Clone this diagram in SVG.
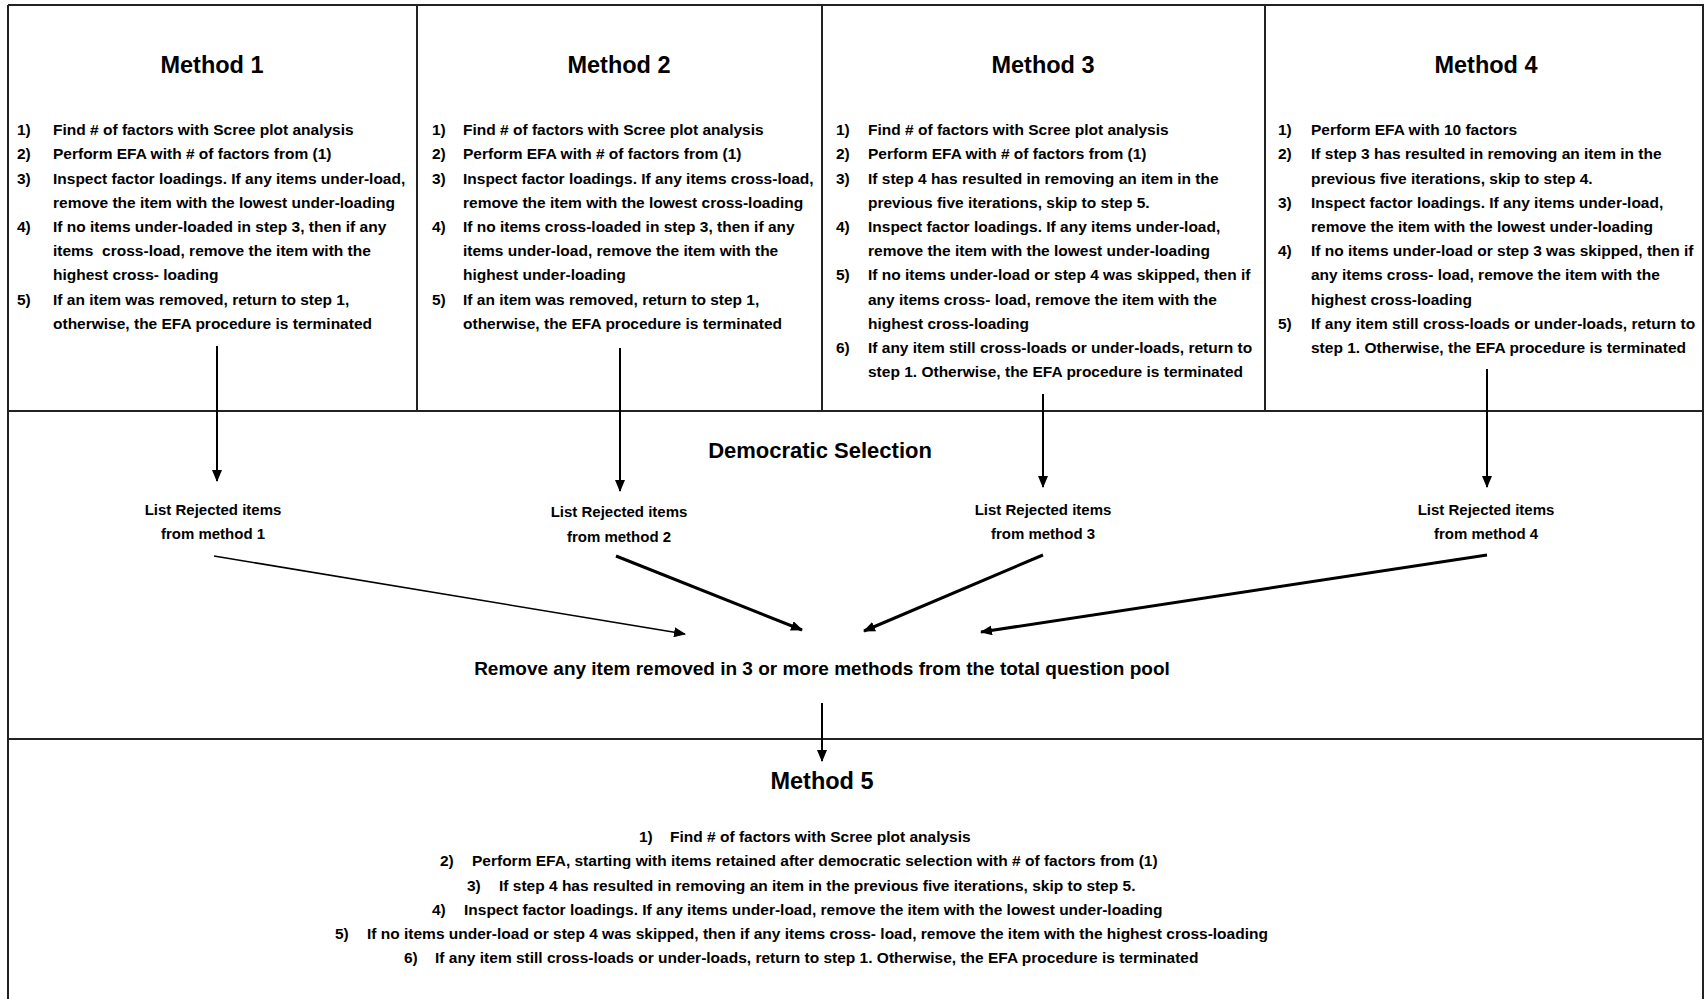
<svg xmlns="http://www.w3.org/2000/svg" width="1704" height="999" viewBox="0 0 1704 999">
<defs>
<style>
.frame{stroke:#222;stroke-width:2;fill:none}
.t{font-family:"Liberation Sans",Arial,sans-serif;font-weight:bold;fill:#000}
.title{font-size:23.5px;text-anchor:middle}
.body{font-size:15.5px}
.lbl{font-size:15px;text-anchor:middle}
.big{font-size:19px;text-anchor:middle}
.sec{font-size:22px;text-anchor:middle}
.c{stroke:#000;fill:none;marker-end:url(#ah)}
</style>
<marker id="ah" markerUnits="userSpaceOnUse" markerWidth="12" markerHeight="10" refX="11" refY="5" orient="auto">
<path d="M0,0 L12,5 L0,10 Z" fill="#000"/>
</marker>
</defs>
<rect width="1704" height="999" fill="#fff"/>
<g id="frame">
<line class="frame" x1="8" y1="5" x2="1704" y2="5"/>
<line class="frame" x1="8" y1="5" x2="8" y2="999"/>
<line class="frame" x1="1703" y1="5" x2="1703" y2="999"/>
<line class="frame" x1="8" y1="411" x2="1704" y2="411"/>
<line class="frame" x1="8" y1="739" x2="1704" y2="739"/>
<line class="frame" x1="417" y1="5" x2="417" y2="411"/>
<line class="frame" x1="822" y1="5" x2="822" y2="411"/>
<line class="frame" x1="1265" y1="5" x2="1265" y2="411"/>
</g>
<g id="method1" class="t">
<text class="title" x="212" y="73">Method 1</text>
<g class="body">
<text x="17" y="135">1)</text><text x="53" y="135">Find # of factors with Scree plot analysis</text>
<text x="17" y="159">2)</text><text x="53" y="159">Perform EFA with # of factors from (1)</text>
<text x="17" y="184">3)</text><text x="53" y="184">Inspect factor loadings. If any items under-load,</text>
<text x="53" y="208">remove the item with the lowest under-loading</text>
<text x="17" y="232">4)</text><text x="53" y="232">If no items under-loaded in step 3, then if any</text>
<text x="53" y="256">items&#160; cross-load, remove the item with the</text>
<text x="53" y="280">highest cross- loading</text>
<text x="17" y="305">5)</text><text x="53" y="305">If an item was removed, return to step 1,</text>
<text x="53" y="329">otherwise, the EFA procedure is terminated</text>
</g>
</g>
<g id="method2" class="t">
<text class="title" x="619" y="73">Method 2</text>
<g class="body">
<text x="432" y="135">1)</text><text x="463" y="135">Find # of factors with Scree plot analysis</text>
<text x="432" y="159">2)</text><text x="463" y="159">Perform EFA with # of factors from (1)</text>
<text x="432" y="184">3)</text><text x="463" y="184">Inspect factor loadings. If any items cross-load,</text>
<text x="463" y="208">remove the item with the lowest cross-loading</text>
<text x="432" y="232">4)</text><text x="463" y="232">If no items cross-loaded in step 3, then if any</text>
<text x="463" y="256">items under-load, remove the item with the</text>
<text x="463" y="280">highest under-loading</text>
<text x="432" y="305">5)</text><text x="463" y="305">If an item was removed, return to step 1,</text>
<text x="463" y="329">otherwise, the EFA procedure is terminated</text>
</g>
</g>
<g id="method3" class="t">
<text class="title" x="1043" y="73">Method 3</text>
<g class="body">
<text x="836" y="135">1)</text><text x="868" y="135">Find # of factors with Scree plot analysis</text>
<text x="836" y="159">2)</text><text x="868" y="159">Perform EFA with # of factors from (1)</text>
<text x="836" y="184">3)</text><text x="868" y="184">If step 4 has resulted in removing an item in the</text>
<text x="868" y="208">previous five iterations, skip to step 5.</text>
<text x="836" y="232">4)</text><text x="868" y="232">Inspect factor loadings. If any items under-load,</text>
<text x="868" y="256">remove the item with the lowest under-loading</text>
<text x="836" y="280">5)</text><text x="868" y="280">If no items under-load or step 4 was skipped, then if</text>
<text x="868" y="305">any items cross- load, remove the item with the</text>
<text x="868" y="329">highest cross-loading</text>
<text x="836" y="353">6)</text><text x="868" y="353">If any item still cross-loads or under-loads, return to</text>
<text x="868" y="377">step 1. Otherwise, the EFA procedure is terminated</text>
</g>
</g>
<g id="method4" class="t">
<text class="title" x="1486" y="73">Method 4</text>
<g class="body">
<text x="1278" y="135">1)</text><text x="1311" y="135">Perform EFA with 10 factors</text>
<text x="1278" y="159">2)</text><text x="1311" y="159">If step 3 has resulted in removing an item in the</text>
<text x="1311" y="184">previous five iterations, skip to step 4.</text>
<text x="1278" y="208">3)</text><text x="1311" y="208">Inspect factor loadings. If any items under-load,</text>
<text x="1311" y="232">remove the item with the lowest under-loading</text>
<text x="1278" y="256">4)</text><text x="1311" y="256">If no items under-load or step 3 was skipped, then if</text>
<text x="1311" y="280">any items cross- load, remove the item with the</text>
<text x="1311" y="305">highest cross-loading</text>
<text x="1278" y="329">5)</text><text x="1311" y="329">If any item still cross-loads or under-loads, return to</text>
<text x="1311" y="353">step 1. Otherwise, the EFA procedure is terminated</text>
</g>
</g>
<g id="democratic-selection" class="t">
<text class="sec" x="820" y="458">Democratic Selection</text>
</g>
<g id="list1" class="t lbl">
<text class="lbl" x="213" y="515">List Rejected items</text>
<text class="lbl" x="213" y="539">from method 1</text>
</g>
<g id="list2" class="t">
<text class="lbl" x="619" y="517">List Rejected items</text>
<text class="lbl" x="619" y="542">from method 2</text>
</g>
<g id="list3" class="t">
<text class="lbl" x="1043" y="515">List Rejected items</text>
<text class="lbl" x="1043" y="539">from method 3</text>
</g>
<g id="list4" class="t">
<text class="lbl" x="1486" y="515">List Rejected items</text>
<text class="lbl" x="1486" y="539">from method 4</text>
</g>
<g id="remove-pool" class="t">
<text class="big" x="822" y="675">Remove any item removed in 3 or more methods from the total question pool</text>
</g>
<g id="method5" class="t">
<text class="title" x="822" y="789">Method 5</text>
<g class="body">
<text x="639" y="842">1)</text><text x="670" y="842">Find # of factors with Scree plot analysis</text>
<text x="440" y="866">2)</text><text x="472" y="866">Perform EFA, starting with items retained after democratic selection with # of factors from (1)</text>
<text x="467" y="891">3)</text><text x="499" y="891">If step 4 has resulted in removing an item in the previous five iterations, skip to step 5.</text>
<text x="432" y="915">4)</text><text x="464" y="915">Inspect factor loadings. If any items under-load, remove the item with the lowest under-loading</text>
<text x="335" y="939">5)</text><text x="367" y="939">If no items under-load or step 4 was skipped, then if any items cross- load, remove the item with the highest cross-loading</text>
<text x="404" y="963">6)</text><text x="435" y="963">If any item still cross-loads or under-loads, return to step 1. Otherwise, the EFA procedure is terminated</text>
</g>
</g>
<g id="connectors">
<line class="c" stroke-width="2" x1="217" y1="346" x2="217" y2="481"/>
<line class="c" stroke-width="2" x1="620" y1="348" x2="620" y2="491"/>
<line class="c" stroke-width="2" x1="1043" y1="394" x2="1043" y2="487"/>
<line class="c" stroke-width="2" x1="1487" y1="369" x2="1487" y2="487"/>
<line class="c" stroke-width="1.6" x1="214" y1="556" x2="685" y2="634"/>
<line class="c" stroke-width="3" x1="616" y1="556" x2="802" y2="630"/>
<line class="c" stroke-width="3" x1="1043" y1="555" x2="864" y2="631"/>
<line class="c" stroke-width="3" x1="1487" y1="555" x2="981" y2="632"/>
<line class="c" stroke-width="2" x1="822" y1="703" x2="822" y2="761"/>
</g>
</svg>
